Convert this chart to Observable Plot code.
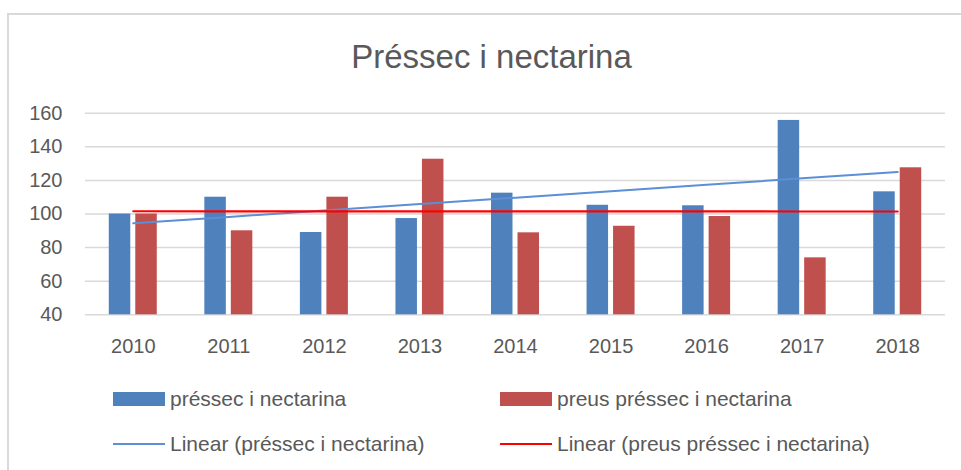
<!DOCTYPE html>
<html>
<head>
<meta charset="utf-8">
<script src="https://cdn.jsdelivr.net/npm/d3@7"></script>
<script src="https://cdn.jsdelivr.net/npm/@observablehq/plot@0.6"></script>
<style>
  html, body { margin: 0; padding: 0; background: #fff; }
  #wrap { position: relative; width: 961px; height: 470px; overflow: hidden; font-family: "Liberation Sans", Arial, sans-serif; color: #595959; }
  #border { position: absolute; left: 7px; top: 13px; width: 1000px; height: 1000px; border-left: 2px solid #d9d9d9; border-top: 2px solid #d9d9d9; }
  #title { position: absolute; left: 0; width: 983px; top: 37px; text-align: center; font-size: 33px; line-height: 40px; }
  #chart { position: absolute; left: 0; top: 100px; }
  .lg { position: absolute; font-size: 21px; line-height: 24px; white-space: nowrap; }
  .sw { position: absolute; }
</style>
</head>
<body>
<div id="wrap">
  <div id="border"></div>
  <div id="title">Préssec i nectarina</div>
  <div id="chart"></div>
  <div id="legend"></div>
</div>
<script>
const years = ["2010","2011","2012","2013","2014","2015","2016","2017","2018"];
const pressec = [100, 110, 89, 97.3, 112.4, 105.2, 104.9, 155.7, 113.2];
const preus = [100, 90, 110, 132.6, 88.8, 92.7, 98.5, 73.9, 127.5];
const yTicks = [40, 60, 80, 100, 120, 140, 160];
const seriesNames = ["préssec i nectarina", "preus préssec i nectarina"];
const trendNames = ["Linear (préssec i nectarina)", "Linear (preus préssec i nectarina)"];

const colBlue = "#4f81bd", colRed = "#c0504d", colTrendBlue = "#5b8fd6", colTrendRed = "#ff0000";

function trend(vals) {
  const xs = vals.map((_, i) => i);
  const mx = d3.mean(xs), my = d3.mean(vals);
  const sxy = d3.sum(xs, (x, i) => (x - mx) * (vals[i] - my));
  const sxx = d3.sum(xs, x => (x - mx) ** 2);
  const b = sxy / sxx, a = my - b * mx;
  return years.map((y, i) => ({year: y, value: a + b * i}));
}

const blueData = years.map((y, i) => ({year: y, value: pressec[i]}));
const redData = years.map((y, i) => ({year: y, value: preus[i]}));

const W = 961, mL = 85, mR = 16;
const bw = (W - mL - mR) / years.length;
const barW = 21.5, gap = 5;
const groupStart = (bw - (2 * barW + gap)) / 2;

const chart = Plot.plot({
  width: W,
  height: 265,
  marginLeft: mL,
  marginRight: mR,
  marginTop: 12.7,
  marginBottom: 50.7,
  style: {fontFamily: "Liberation Sans, Arial, sans-serif", fontSize: "20px", color: "#595959", background: "transparent"},
  x: {type: "band", domain: years, padding: 0, round: false, label: null, tickSize: 0, tickPadding: 24},
  y: {domain: [40, 160], ticks: yTicks, label: null, tickSize: 0, tickPadding: 23},
  marks: [
    Plot.ruleY(yTicks, {stroke: "#d9d9d9", strokeWidth: 1.5}),
    Plot.barY(blueData, {x: "year", y1: 40, y2: "value", fill: colBlue, insetLeft: groupStart, insetRight: bw - groupStart - barW}),
    Plot.barY(redData, {x: "year", y1: 40, y2: "value", fill: colRed, insetLeft: groupStart + barW + gap, insetRight: groupStart}),
    Plot.line(trend(pressec), {x: "year", y: "value", stroke: colTrendBlue, strokeWidth: 2}),
    Plot.line(trend(preus), {x: "year", y: "value", stroke: colTrendRed, strokeWidth: 2.2})
  ]
});
document.getElementById("chart").appendChild(chart);

const legend = document.getElementById("legend");
const items = [
  {x: 113, y: 399, kind: "bar", color: colBlue, text: seriesNames[0]},
  {x: 500, y: 399, kind: "bar", color: colRed, text: seriesNames[1]},
  {x: 113, y: 444, kind: "line", color: colTrendBlue, text: trendNames[0]},
  {x: 500, y: 444, kind: "line", color: colTrendRed, text: trendNames[1]}
];
for (const it of items) {
  const sw = document.createElement("div");
  sw.className = "sw";
  sw.style.left = it.x + "px";
  sw.style.width = "52px";
  if (it.kind === "bar") { sw.style.top = (it.y - 7) + "px"; sw.style.height = "14px"; }
  else { sw.style.top = (it.y - 1) + "px"; sw.style.height = "2px"; }
  sw.style.background = it.color;
  legend.appendChild(sw);
  const t = document.createElement("div");
  t.className = "lg";
  t.style.left = (it.x + 57) + "px";
  t.style.top = (it.y - 12) + "px";
  t.textContent = it.text;
  legend.appendChild(t);
}
</script>
</body>
</html>
